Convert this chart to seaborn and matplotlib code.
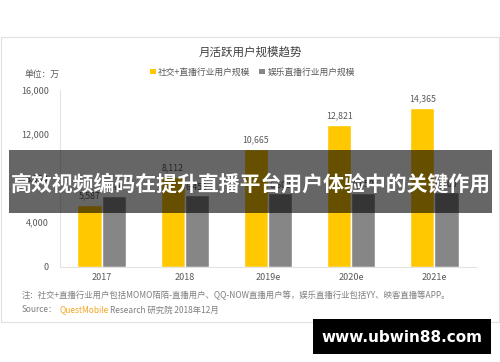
import matplotlib
matplotlib.use("Agg")
import matplotlib.pyplot as plt
from matplotlib.patches import Rectangle, Patch
import seaborn as sns
import pandas as pd

years = ["2017", "2018", "2019e", "2020e", "2021e"]
social_live = [5587, 8112, 10665, 12821, 14365]
ent_live = [6400, 6450, 6600, 6650, 6700]
series_names = ["社交+直播行业用户规模", "娱乐直播行业用户规模"]
y_ticks = [0, 4000, 8000, 12000, 16000]

title = "月活跃用户规模趋势"
unit_label = "单位：万"
note = "注：社交+直播行业用户包括MOMO陌陌-直播用户、QQ-NOW直播用户等，娱乐直播行业包括YY、映客直播等APP。"
banner = "高效视频编码在提升直播平台用户体验中的关键作用"
watermark = "www.ubwin88.com"

sns.set_theme(style="white")
plt.rcParams["font.family"] = ["Noto Sans CJK SC", "DejaVu Sans"]

df = pd.DataFrame({
    "year": years * 2,
    "value": social_live + ent_live,
    "series": [series_names[0]] * len(years) + [series_names[1]] * len(years),
})

colors = ["#FFC800", "#868686"]
W, H = 500, 362
fig = plt.figure(figsize=(5, 3.62), dpi=100)
fig.patch.set_facecolor("white")

ax = fig.add_axes([60 / W, (H - 266.5) / H, 416 / W, 177 / H])
sns.barplot(data=df, x="year", y="value", hue="series", palette=colors,
            width=0.58, ax=ax, legend=False, saturation=1)
ax.set_ylim(0, 16000)
ax.set_yticks(y_ticks)
ax.set_yticklabels([f"{v:,}" for v in y_ticks])
ax.set_xlabel("")
ax.set_ylabel("")
ax.tick_params(axis="both", length=0, labelsize=6.5, labelcolor="#595959")
ax.tick_params(axis="y", pad=8)
ax.tick_params(axis="x", pad=5)
for s in ["top", "right"]:
    ax.spines[s].set_visible(False)
for s in ["left", "bottom"]:
    ax.spines[s].set_color("#e3e3e3")
    ax.spines[s].set_linewidth(0.8)
ax.set_facecolor("white")

for cont in ax.containers:
    ax.bar_label(cont, labels=[f"{v:,.0f}" for v in cont.datavalues],
                 fontsize=6.3, color="#595959", padding=3)

# title, unit, legend
fig.text(0.5, 1 - 52 / H, title, ha="center", va="center", fontsize=8.3,
         color="#404040")
fig.text(42 / W, 1 - 74 / H, unit_label, ha="center", va="center",
         fontsize=6.3, color="#595959")
handles = [Patch(facecolor=c, edgecolor="none") for c in colors]
fig.legend(handles, series_names, loc="center", bbox_to_anchor=(0.505, 1 - 72 / H),
           ncol=2, frameon=False, fontsize=6.3, labelcolor="#595959",
           handlelength=0.6, handleheight=0.6, handletextpad=0.3,
           columnspacing=1.0)

# footer
fig.text(22 / W, 1 - 295 / H, note, ha="left", va="center", fontsize=6.0,
         color="#7f7f7f")
t1 = fig.text(22 / W, 1 - 310 / H, "Source：", ha="left", va="center",
              fontsize=6.0, color="#7f7f7f")
fig.canvas.draw()
r = fig.canvas.get_renderer()
bb = t1.get_window_extent(r)
t2 = fig.text(bb.x1 / W + 0.004, 1 - 310 / H, "QuestMobile", ha="left", va="center",
              fontsize=6.0, color="#F5A623")
bb2 = t2.get_window_extent(r)
fig.text(bb2.x1 / W + 0.002, 1 - 310 / H, "Research 研究院 2018年12月",
         ha="left", va="center", fontsize=6.0, color="#7f7f7f")

# panel border
fig.patches.append(Rectangle((0.5 / W, 1 - 322 / H), 498.5 / W, 285 / H,
                             transform=fig.transFigure, fill=False,
                             edgecolor="#e0e0e0", linewidth=0.8, zorder=5))

# banner overlay
fig.patches.append(Rectangle((9 / W, 1 - 213 / H), 483 / W, 63 / H,
                             transform=fig.transFigure, facecolor="black",
                             alpha=0.6, edgecolor="none", zorder=10))
fig.text(250.5 / W, 1 - 184 / H, banner, ha="center", va="center",
         fontsize=15.0, fontweight="bold", color="white", zorder=11)

# watermark
fig.patches.append(Rectangle((313 / W, 1 - 354 / H), 178 / W, 35 / H,
                             transform=fig.transFigure, facecolor="black",
                             edgecolor="none", zorder=10))
fig.text(402 / W, 1 - 337 / H, watermark, ha="center", va="center",
         fontsize=11.0, fontweight="bold", color="white", zorder=11,
         family=["DejaVu Sans"])

fig.savefig("out.png", dpi=100)
